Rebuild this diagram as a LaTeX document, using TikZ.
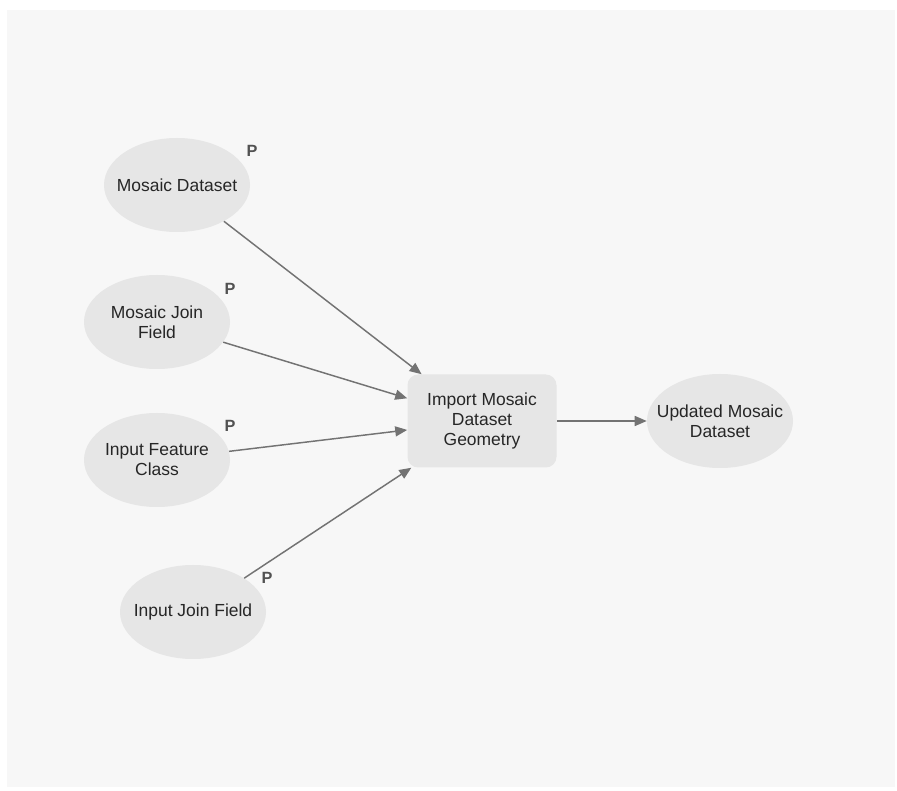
\documentclass[tikz,border=0pt]{standalone}
\usepackage{fontspec}
\setmainfont{Liberation Sans}
\usetikzlibrary{shapes.geometric, arrows.meta}
\definecolor{panelgray}{HTML}{F7F7F7}
\definecolor{nodegray}{HTML}{E6E6E6}
\definecolor{linkgray}{HTML}{737373}
\definecolor{txtgray}{HTML}{262626}

\begin{document}
\begin{tikzpicture}[x=0.75pt, y=-0.75pt,
  varnode/.style={ellipse, fill=nodegray, inner xsep=-12pt,
                  inner ysep=0pt,
                  minimum width=109.5pt, minimum height=70.5pt,
                  text=txtgray, align=center,
                  font=\fontsize{13.1pt}{15pt}\selectfont},
  toolnode/.style={rectangle, rounded corners=8pt, fill=nodegray,
                   inner sep=0pt, minimum width=111.75pt,
                   minimum height=69.75pt, text=txtgray, align=center,
                   font=\fontsize{13.1pt}{15pt}\selectfont},
  plabel/.style={text=black!68, inner sep=0pt,
                 font=\fontsize{12.2pt}{14pt}\selectfont\bfseries},
  link/.style={-{Triangle[length=9pt, width=7.5pt]}, linkgray,
               line width=1.1pt}]
  % page and model panel
  \fill[white] (0,0) rectangle (897,791);
  \fill[panelgray] (7,10) rectangle (895,787);
  % input variables, each one a model parameter
  \node[varnode] (mds) at (177,185) {Mosaic Dataset};
  \node[varnode] (mjf) at (157,322) {Mosaic Join\\Field};
  \node[varnode] (ifc) at (157,460) {Input Feature\\Class};
  \node[varnode] (ijf) at (193,612) {Input Join Field};
  \node[plabel] (mdsp) at (252,151) {P};
  \node[plabel] (mjfp) at (230,289) {P};
  \node[plabel] (ifcp) at (230,426) {P};
  \node[plabel] (ijfp) at (267,578) {P};
  % the tool and its output
  \node[toolnode] (imp) at (482,421) {Import Mosaic\\Dataset\\Geometry};
  \node[varnode] (umd) at (720,421) {Updated Mosaic\\Dataset};
  \draw[link] (mds) -- (imp);
  \draw[link] (mjf) -- (imp);
  \draw[link] (ifc) -- (imp);
  \draw[link] (ijf) -- (imp);
  \draw[link] (imp) -- (umd);
\end{tikzpicture}
\end{document}
